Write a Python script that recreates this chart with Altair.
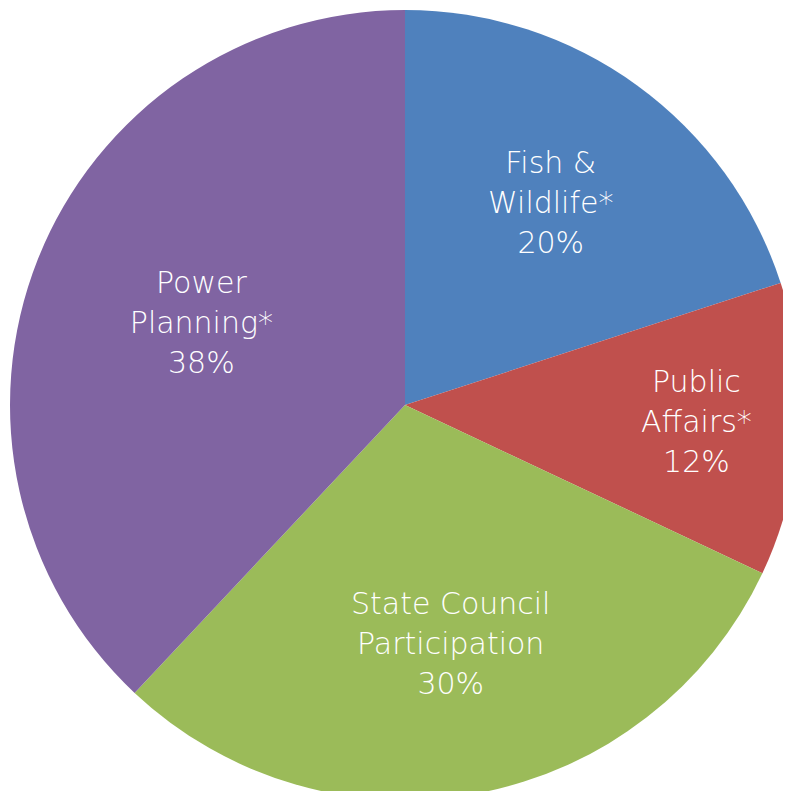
import altair as alt
import pandas as pd
import math

categories = ["Fish & Wildlife*", "Public Affairs*", "State Council Participation", "Power Planning*"]
labels = ["Fish &\nWildlife*\n20%", "Public\nAffairs*\n12%", "State Council\nParticipation\n30%", "Power\nPlanning*\n38%"]
values = [20, 12, 30, 38]
colors = ["#4F81BD", "#C0504D", "#9BBB59", "#8064A2"]

df = pd.DataFrame({"category": categories, "label": labels, "value": values, "order": list(range(len(values)))})

CX, CY, R = 397, 397, 395

pie = alt.Chart(df).mark_arc(outerRadius=R, stroke=None).encode(
    theta=alt.Theta("value:Q", stack=True),
    order=alt.Order("order:Q"),
    color=alt.Color("category:N", scale=alt.Scale(domain=categories, range=colors), legend=None),
    x=alt.value(CX), y=alt.value(CY),
)

label_radii = {"Fish & Wildlife*": 248, "Public Affairs*": 292, "State Council Participation": 244, "Power Planning*": 219}

text_base = alt.Chart(df).transform_window(
    cum="sum(value)", sort=[alt.SortField("order")]
).transform_calculate(
    mid="datum.cum - datum.value / 2"
)

text_layers = []
for cat in categories:
    t = text_base.transform_filter(alt.datum.category == cat).mark_text(
        radius=label_radii[cat], font="DejaVu Sans", fontSize=30, fontWeight=200,
        color="white", lineBreak="\n", lineHeight=40, align="center", baseline="middle", dy=-40,
    ).encode(
        theta=alt.Theta("mid:Q", stack=None, scale=alt.Scale(domain=[0, 100], range=[0, 2 * math.pi])),
        text="label:N", x=alt.value(CX), y=alt.value(CY),
    )
    text_layers.append(t)

chart = alt.layer(pie, *text_layers).properties(
    width=775, height=783, padding=0, autosize="none",
).configure_view(stroke=None)

chart.save("out.html", embed_options={"renderer": "svg", "actions": False})
